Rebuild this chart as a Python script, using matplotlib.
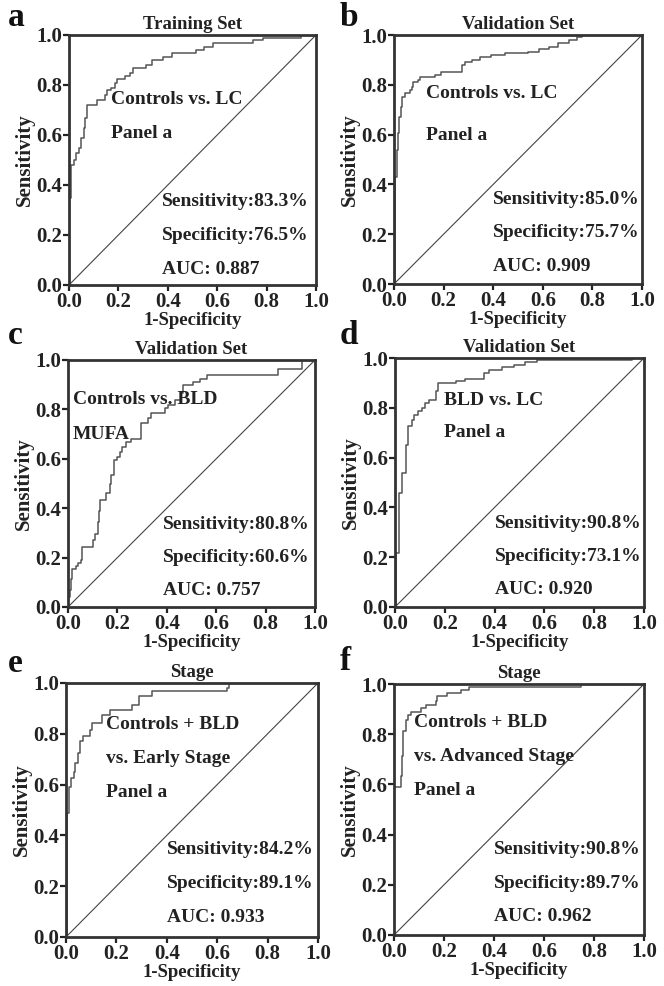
import matplotlib
matplotlib.use('Agg')
import matplotlib.pyplot as plt

plt.rcParams['font.family'] = ['Liberation Serif', 'DejaVu Serif']
plt.rcParams['font.weight'] = 'bold'

W, H = 664, 986

# ROC curves: (1-specificity, sensitivity) after each step
fpr_a = [0, 0, 0.007, 0.02, 0.03, 0.04, 0.05, 0.06, 0.065, 0.074, 0.112, 0.146, 0.155, 0.17, 0.186,
         0.193, 0.227, 0.245, 0.26, 0.31, 0.335, 0.38, 0.415, 0.515, 0.545, 0.585, 0.745, 0.787, 0.94, 1.0]
tpr_a = [0, 0.35, 0.48, 0.50, 0.53, 0.55, 0.59, 0.63, 0.67, 0.72, 0.74, 0.76, 0.78, 0.79, 0.81,
         0.825, 0.835, 0.85, 0.867, 0.88, 0.90, 0.913, 0.927, 0.94, 0.953, 0.967, 0.98, 0.99, 1.0, 1.0]

fpr_b = [0, 0.004, 0.011, 0.015, 0.022, 0.028, 0.034, 0.044, 0.065, 0.071, 0.078, 0.096, 0.105, 0.166,
         0.19, 0.273, 0.287, 0.314, 0.347, 0.39, 0.448, 0.542, 0.583, 0.623, 0.663, 0.704, 0.737, 0.758, 1.0]
tpr_b = [0, 0.43, 0.54, 0.605, 0.672, 0.71, 0.75, 0.767, 0.78, 0.79, 0.81, 0.82, 0.83, 0.84,
         0.85, 0.88, 0.893, 0.90, 0.91, 0.92, 0.927, 0.933, 0.943, 0.953, 0.967, 0.98, 0.99, 1.0, 1.0]

fpr_c = [0, 0, 0.007, 0.014, 0.018, 0.031, 0.04, 0.054, 0.058, 0.101, 0.108, 0.122, 0.126, 0.131, 0.155,
         0.169, 0.176, 0.185, 0.199, 0.209, 0.22, 0.234, 0.257, 0.297, 0.324, 0.338, 0.392, 0.405, 0.432,
         0.459, 0.466, 0.507, 0.534, 0.561, 0.851, 0.946, 1.0]
tpr_c = [0, 0.04, 0.068, 0.115, 0.155, 0.165, 0.178, 0.19, 0.243, 0.27, 0.297, 0.345, 0.39, 0.432, 0.46,
         0.50, 0.534, 0.595, 0.608, 0.628, 0.649, 0.669, 0.682, 0.743, 0.764, 0.784, 0.804, 0.818, 0.838,
         0.865, 0.899, 0.912, 0.922, 0.939, 0.962, 1.0, 1.0]

fpr_d = [0, 0.003, 0.016, 0.029, 0.043, 0.053, 0.067, 0.076, 0.093, 0.11, 0.12, 0.136, 0.163, 0.174,
         0.243, 0.283, 0.356, 0.376, 0.43, 0.477, 0.523, 0.57, 0.95, 1.0]
tpr_d = [0, 0.217, 0.458, 0.538, 0.652, 0.726, 0.752, 0.772, 0.786, 0.799, 0.819, 0.833, 0.866, 0.90,
         0.906, 0.915, 0.94, 0.953, 0.964, 0.973, 0.983, 0.993, 1.0, 1.0]

fpr_e = [0, 0.004, 0.011, 0.02, 0.03, 0.037, 0.046, 0.054, 0.067, 0.094, 0.103, 0.142, 0.175, 0.261,
         0.288, 0.34, 0.637, 0.645, 1.0]
tpr_e = [0, 0.487, 0.592, 0.625, 0.65, 0.684, 0.724, 0.77, 0.79, 0.816, 0.842, 0.875, 0.895, 0.914,
         0.947, 0.967, 0.98, 1.0, 1.0]

fpr_f = [0, 0, 0.027, 0.033, 0.037, 0.047, 0.057, 0.067, 0.107, 0.127, 0.167, 0.173, 0.213, 0.267,
         0.30, 0.747, 1.0]
tpr_f = [0, 0.59, 0.632, 0.712, 0.811, 0.857, 0.878, 0.887, 0.904, 0.918, 0.931, 0.951, 0.964, 0.975,
         0.99, 1.0, 1.0]

letters = ['a', 'b', 'c', 'd', 'e', 'f']
titles = ['Training Set', 'Validation Set', 'Validation Set', 'Validation Set', 'Stage', 'Stage']
groups = [['Controls vs. LC', 'Panel a'],
          ['Controls vs. LC', 'Panel a'],
          ['Controls vs. BLD', 'MUFA'],
          ['BLD vs. LC', 'Panel a'],
          ['Controls + BLD', 'vs. Early Stage', 'Panel a'],
          ['Controls + BLD', 'vs. Advanced Stage', 'Panel a']]
sens = ['83.3%', '85.0%', '80.8%', '90.8%', '84.2%', '90.8%']
spec = ['76.5%', '75.7%', '60.6%', '73.1%', '89.1%', '89.7%']
auc = ['0.887', '0.909', '0.757', '0.920', '0.933', '0.962']
curves = [(fpr_a, tpr_a), (fpr_b, tpr_b), (fpr_c, tpr_c),
          (fpr_d, tpr_d), (fpr_e, tpr_e), (fpr_f, tpr_f)]

# axes boxes in pixels: left, top, right, bottom
boxes = [(69, 35, 316, 285), (394, 35, 642, 284),
         (68, 360, 315, 607), (395, 358, 644, 607),
         (66, 683, 318, 937), (394, 684, 644, 935)]
# where the group text goes (x, y of first line, line step) in data units
group_pos = [(0.17, 0.744, 0.136), (0.13, 0.767, 0.169), (0.02, 0.84, 0.14),
             (0.197, 0.83, 0.13), (0.16, 0.835, 0.134), (0.08, 0.845, 0.134)]
stat_pos = [(0.377, 0.332), (0.40, 0.34), (0.385, 0.336),
            (0.40, 0.337), (0.40, 0.343), (0.40, 0.34)]
letter_pos = [(8, 26), (340, 26), (8, 344), (340, 344), (8, 672), (340, 670)]

fig = plt.figure(figsize=(W / 100, H / 100), dpi=100)

for i in range(6):
    l, t, r, b = boxes[i]
    ax = fig.add_axes([l / W, 1 - b / H, (r - l) / W, (b - t) / H])
    fx, ty = curves[i]
    ax.plot(fx, ty, drawstyle='steps-post', color='#555555', lw=1.1)
    ax.plot([0, 1], [0, 1], color='#444444', lw=0.8)
    ax.set_xlim(0, 1)
    ax.set_ylim(0, 1)
    ax.set_xticks([0, 0.2, 0.4, 0.6, 0.8, 1.0])
    ax.set_yticks([0, 0.2, 0.4, 0.6, 0.8, 1.0])
    ax.set_xticklabels(['0.0', '0.2', '0.4', '0.6', '0.8', '1.0'])
    ax.set_yticklabels(['0.0', '0.2', '0.4', '0.6', '0.8', '1.0'])
    ax.tick_params(labelsize=15, width=1.6, length=4, pad=1, colors='#222222')
    for s in ax.spines.values():
        s.set_linewidth(2)
        s.set_color('#333333')
    ax.set_xlabel('1-Specificity', fontsize=13.5, fontweight='bold', labelpad=0, color='#222222')
    ax.set_ylabel('Sensitivity', fontsize=15, fontweight='bold', labelpad=1, color='#222222')
    ax.set_title(titles[i], fontsize=13.5, fontweight='bold', pad=4, color='#222222')

    gx, gy, step = group_pos[i]
    for k, line in enumerate(groups[i]):
        ax.text(gx, gy - k * step, line, fontsize=14, fontweight='bold', va='center', color='#222222')
    sx, sy = stat_pos[i]
    ax.text(sx, sy, 'Sensitivity:' + sens[i], fontsize=14, fontweight='bold', va='center', color='#222222')
    ax.text(sx, sy - 0.134, 'Specificity:' + spec[i], fontsize=14, fontweight='bold', va='center', color='#222222')
    ax.text(sx, sy - 0.268, 'AUC: ' + auc[i], fontsize=14, fontweight='bold', va='center', color='#222222')

    px, py = letter_pos[i]
    fig.text(px / W, 1 - py / H, letters[i], fontsize=24, fontweight='bold', color='#111111')

fig.savefig('out.png', dpi=100)
